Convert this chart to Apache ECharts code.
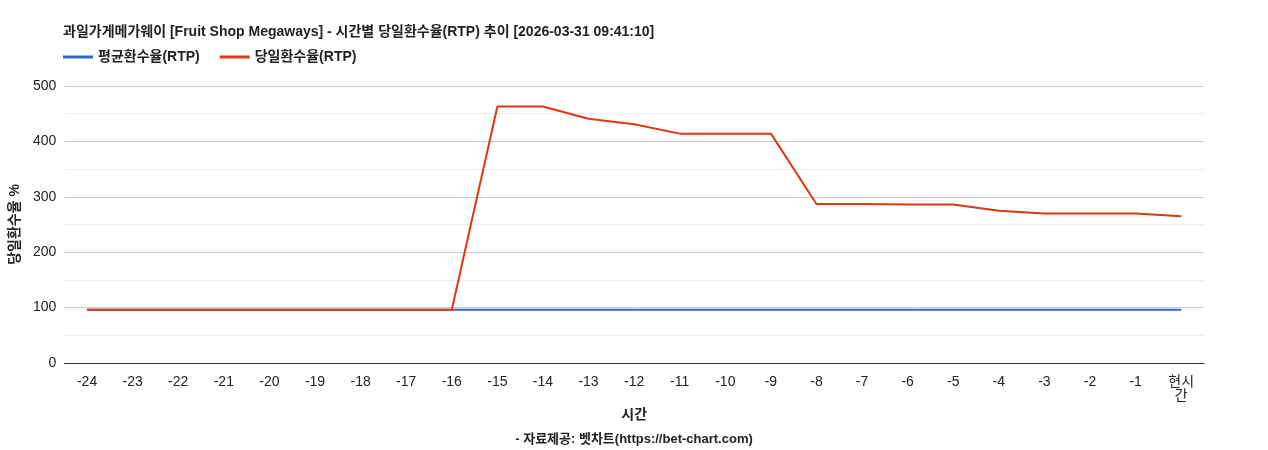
<!DOCTYPE html>
<html><head><meta charset="utf-8">
<script src="https://cdn.jsdelivr.net/npm/echarts@6/dist/echarts.min.js"></script>
<style>html,body{margin:0;padding:0;background:#fff}#c{width:1268px;height:450px}</style>
</head><body><div id="c"></div>
<script>
const categories = ['-24','-23','-22','-21','-20','-19','-18','-17','-16','-15','-14','-13','-12','-11','-10','-9','-8','-7','-6','-5','-4','-3','-2','-1','현시간'];
const avgRTP = [96,96,96,96,96,96,96,96,96,96,96,96,96,96,96,96,96,96,96,96,96,96,96,96,96];
const dayRTP = [96,96,96,96,96,96,96,96,96,463,463,441,431,414,414,414,287,287,286,286,275,270,270,270,265];
const yTicks = [0,100,200,300,400,500];
const font = '"Liberation Sans", Arial, "Noto Sans CJK KR", sans-serif';
const chart = echarts.init(document.getElementById('c'));
chart.setOption({
  animation:false,
  textStyle:{fontFamily:font},
  title:[{text:'과일가게메가웨이 [Fruit Shop Megaways] - 시간별 당일환수율(RTP) 추이 [2026-03-31 09:41:10]',left:58,top:20,textStyle:{fontSize:14,fontWeight:'bold',color:'#222',fontFamily:font}},
         {text:'- 자료제공: 벳차트(https://bet-chart.com)',left:'center',top:428,textStyle:{fontSize:13,fontWeight:'bold',color:'#222',fontFamily:font}}],
  legend:{left:58,top:45,itemWidth:30,itemHeight:3,icon:'rect',itemGap:20,textStyle:{fontSize:14,fontWeight:'bold',color:'#222',fontFamily:font}},
  grid:{left:63,right:64,top:86,bottom:87},
  xAxis:{type:'category',data:categories,boundaryGap:true,name:'시간',nameLocation:'middle',nameGap:45,
    nameTextStyle:{fontSize:14,fontWeight:'bold',color:'#222',fontFamily:font},
    axisLine:{lineStyle:{color:'#333'}},axisTick:{show:false},
    axisLabel:{fontSize:14,color:'#222',interval:0,margin:12,fontFamily:font,formatter:v=>v==='현시간'?'현시\n간':v}},
  yAxis:{type:'value',min:yTicks[0],max:yTicks[yTicks.length-1],interval:100,name:'당일환수율 %',nameLocation:'middle',nameGap:24,
    nameTextStyle:{fontSize:14,fontWeight:'bold',color:'#222',fontFamily:font},
    axisLabel:{fontSize:14,color:'#222',fontFamily:font},axisLine:{show:false},
    splitLine:{lineStyle:{color:'#ccc'}},
    minorTick:{show:false,splitNumber:2},minorSplitLine:{show:true,lineStyle:{color:'#eee'}}},
  series:[
    {name:'평균환수율(RTP)',type:'line',data:avgRTP,symbol:'none',lineStyle:{width:2,color:'#3366cc'},itemStyle:{color:'#3366cc'}},
    {name:'당일환수율(RTP)',type:'line',data:dayRTP,symbol:'none',lineStyle:{width:2,color:'#dc3912'},itemStyle:{color:'#dc3912'}}
  ]
});
</script></body></html>
